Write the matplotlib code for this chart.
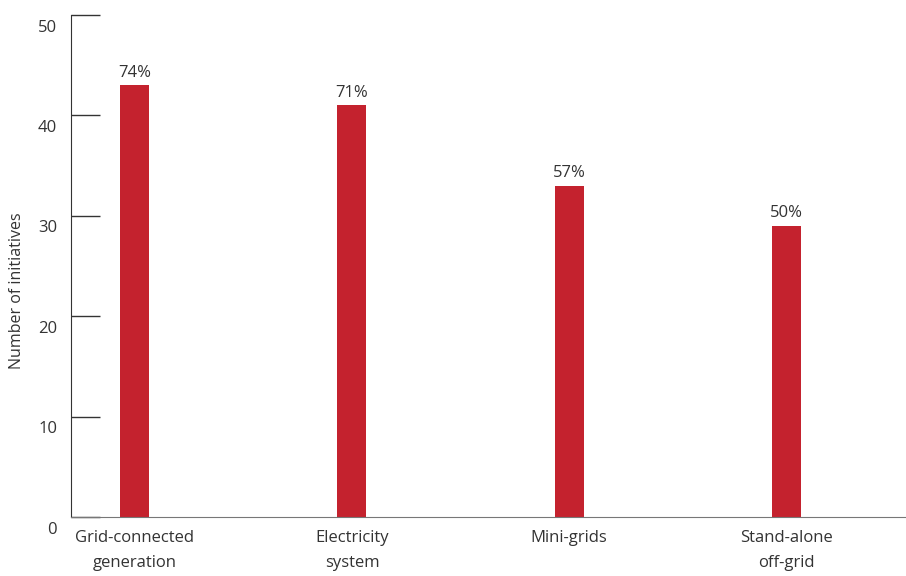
import matplotlib
matplotlib.use("Agg")
import matplotlib.pyplot as plt
import matplotlib.transforms as mtransforms

categories = ["Grid-connected\ngeneration", "Electricity\nsystem", "Mini-grids", "Stand-alone\noff-grid"]
values = [43, 41, 33, 29]
pct_labels = ["74%", "71%", "57%", "50%"]
yticks = [0, 10, 20, 30, 40, 50]

plt.rcParams['font.family'] = ['Open Sans', 'DejaVu Sans']
txt = '#333333'

fig = plt.figure(figsize=(9.06, 5.76), dpi=100)
ax = fig.add_axes([71/906, 59/576, 1 - 71/906, (517-15)/576])
x = list(range(len(categories)))
bars = ax.bar(x, values, width=0.134, color='#C4222E', zorder=2)
for xi, v, lab in zip(x, values, pct_labels):
    ax.text(xi, v + 0.45, lab, ha='center', va='bottom', fontsize=12, color=txt)

ax.set_xlim(-0.293, 3.55)
ax.set_ylim(0, 50)
ax.set_yticks(yticks)
ax.set_xticks(x)
ax.set_xticklabels(categories, fontsize=12, color=txt, linespacing=1.8)
ax.tick_params(axis='x', length=0, pad=9)
ax.tick_params(axis='y', direction='in', length=21, width=1, color='#333333', labelsize=12, labelcolor=txt, pad=10)
offset = mtransforms.ScaledTranslation(0, -9/72, fig.dpi_scale_trans)
for lab in ax.get_yticklabels():
    lab.set_verticalalignment('center')
    lab.set_transform(lab.get_transform() + offset)
ax.spines['top'].set_visible(False)
ax.spines['right'].set_visible(False)
ax.spines['left'].set_color('#333333')
ax.spines['bottom'].set_color('#777777')
ax.set_ylabel("Number of initiatives", fontsize=11.5, color=txt, va='center')
ax.yaxis.set_label_coords(-0.065, 0.45)

fig.savefig("out.png", dpi=100)
